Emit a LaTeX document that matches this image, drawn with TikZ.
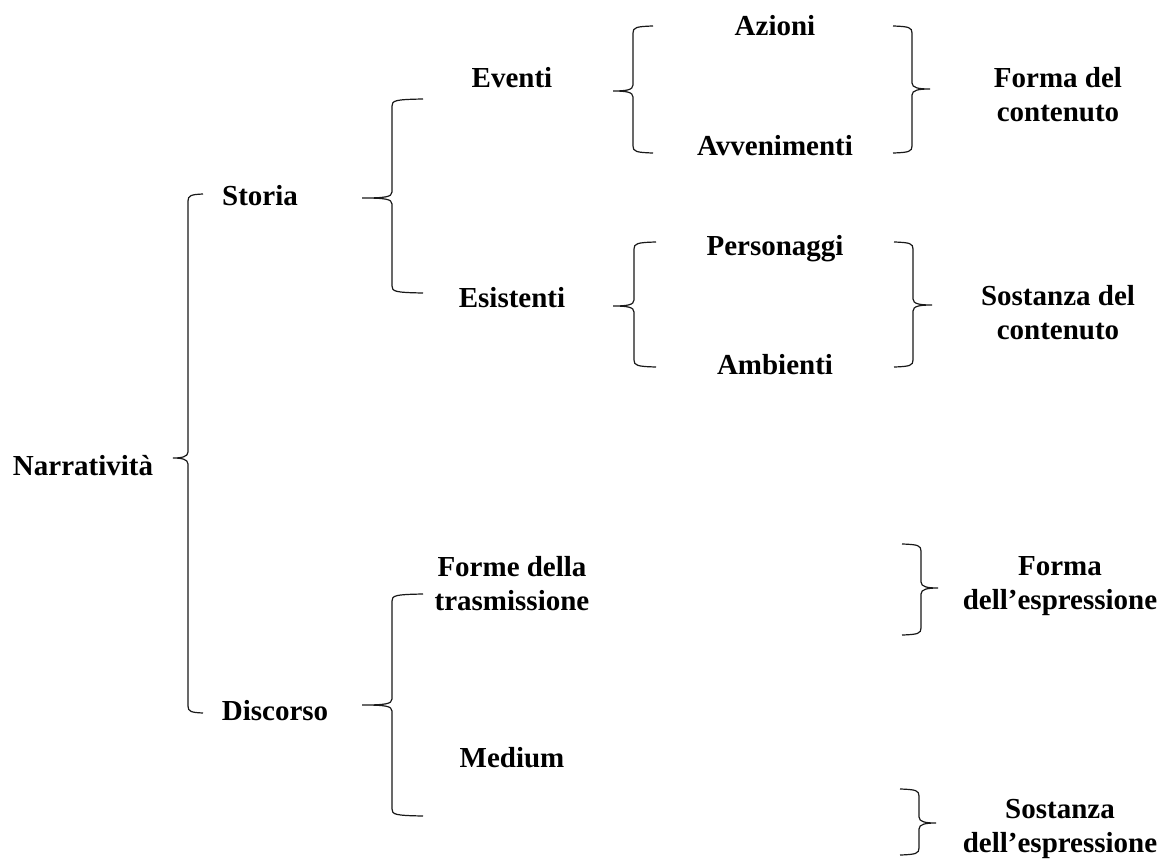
\documentclass[tikz,border=0pt]{standalone}
\usepackage{fontspec}
\setmainfont{Liberation Serif}
\newcommand\braceLeft[6]{%
 \draw[bracestyle] (#2,#4) .. controls ({#1+3},{#4+0.5}) and (#1,{#4+1.5}) .. (#1,{#4+7})
  -- (#1,{#5-6}) .. controls (#1,{#5-1}) and ({#1-7},#5) .. (#3,#5)
  .. controls ({#1-7},#5) and (#1,{#5+1}) .. (#1,{#5+6})
  -- (#1,{#6-7}) .. controls (#1,{#6-1.5}) and ({#1+3},{#6-0.5}) .. (#2,#6);}
\newcommand\braceRight[6]{%
 \draw[bracestyle] (#2,#4) .. controls ({#1-3},{#4+0.5}) and (#1,{#4+1.5}) .. (#1,{#4+7})
  -- (#1,{#5-6}) .. controls (#1,{#5-1}) and ({#1+7},#5) .. (#3,#5)
  .. controls ({#1+7},#5) and (#1,{#5+1}) .. (#1,{#5+6})
  -- (#1,{#6-7}) .. controls (#1,{#6-1.5}) and ({#1-3},{#6-0.5}) .. (#2,#6);}
\begin{document}
\begin{tikzpicture}[x=1pt,y=-1pt,
  bracestyle/.style={draw=black!90, line width=1.2pt},
  lbl/.style={inner sep=0pt, font=\fontsize{29}{34}\selectfont\bfseries, text=black},
  lbs/.style={lbl, anchor=base},
  lbm/.style={lbl, anchor=center, align=center}]
\useasboundingbox[fill=white] (0,0) rectangle (1161,859);
% braces
\braceLeft{188}{203}{173}{194}{458}{713}
\braceLeft{392}{423}{362}{99}{198}{293}
\braceLeft{392}{423}{362}{594}{705}{816}
\braceLeft{633}{653}{613}{26}{91}{153}
\braceLeft{634}{656}{613}{242}{306}{367}
\braceRight{912}{893}{930}{26}{89}{153}
\braceRight{913}{894}{932}{242}{305}{367}
\braceRight{921}{902}{938}{544}{588}{635}
\braceRight{919}{900}{936}{789}{823}{855}
% labels
\node[lbs] (narr) at (83,475) {Narratività};
\node[lbs] (storia) at (260,205) {Storia};
\node[lbs] (discorso) at (275,720) {Discorso};
\node[lbs] (eventi) at (512,87) {Eventi};
\node[lbs] (esistenti) at (512,307) {Esistenti};
\node[lbm] (forme) at (512,584) {Forme della\\trasmissione};
\node[lbs] (medium) at (512,767) {Medium};
\node[lbs] (azioni) at (775,36) {Azioni};
\node[lbs] (avven) at (775,155) {Avvenimenti};
\node[lbs] (person) at (775,255) {Personaggi};
\node[lbs] (ambienti) at (775,374) {Ambienti};
\node[lbm] (fcont) at (1058,95) {Forma del\\contenuto};
\node[lbm] (scont) at (1058,313) {Sostanza del\\contenuto};
\node[lbm] (fespr) at (1060,586) {Forma\\dell’espressione};
\node[lbm] (sespr) at (1060,829) {Sostanza\\dell’espressione};
\end{tikzpicture}
\end{document}
